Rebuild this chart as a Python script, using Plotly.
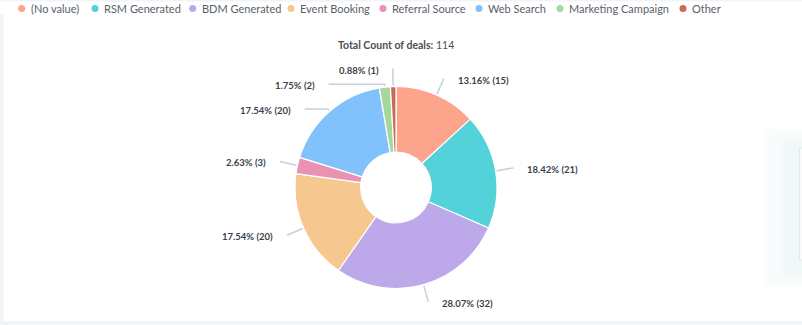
import math
import plotly.graph_objects as go

# ---------------- data ----------------
CATEGORIES = ["(No value)", "RSM Generated", "BDM Generated", "Event Booking",
              "Referral Source", "Web Search", "Marketing Campaign", "Other"]
COUNTS = [15, 21, 32, 20, 3, 20, 2, 1]
COLORS = ["#FCA58C", "#53D3D9", "#BDA9EA", "#F6C78F",
          "#EA92B2", "#81C1FC", "#A5D89B", "#C76B58"]
TITLE_LABEL = "Total Count of deals:"

# ---------------- layout constants ----------------
W, H = 802, 325
CX, CY, R = 396, 187.5, 101
FONT = "Lato"
LINE_COLOR = "#C5D0DC"
LABEL_COLOR = "#3A3F4A"
LEGEND_X = [21.7, 95, 192.7, 291, 383, 479, 560, 683]
LEGEND_Y = 8.5
BEND_R = {5: 104, 6: 104}      # label-line bend radius overrides
HLEN = {5: 23, 6: 56}          # horizontal label-line lengths

total = sum(COUNTS)

fig = go.Figure()

fig.add_trace(go.Pie(
    labels=CATEGORIES, values=COUNTS, sort=False, direction="clockwise",
    rotation=0, hole=0.35, textinfo="none", hoverinfo="label+value+percent",
    marker=dict(colors=COLORS, line=dict(color="#FFFFFF", width=1.2)),
    domain=dict(x=[(CX - R) / W, (CX + R) / W],
                y=[1 - (CY + R) / H, 1 - (CY - R) / H]),
    showlegend=False,
))

annotations = []
cum = 0
for i, c in enumerate(COUNTS):
    mid = (cum + c / 2) / total * 2 * math.pi
    cum += c
    sx, sy = math.sin(mid), -math.cos(mid)
    side = 1 if sx >= 0 else -1
    p0 = (CX + (R + 1) * sx, CY + (R + 1) * sy)
    rb = BEND_R.get(i, R + 18)
    p1 = (CX + rb * sx, CY + rb * sy)
    h = HLEN.get(i, 0)
    p2 = (p1[0] + side * h, p1[1])
    fig.add_trace(go.Scatter(
        x=[p0[0], p1[0], p2[0]], y=[p0[1], p1[1], p2[1]], mode="lines",
        line=dict(color=LINE_COLOR, width=1.5), hoverinfo="skip", showlegend=False,
    ))
    annotations.append(dict(
        x=p2[0] + side * 12, y=p2[1] + 1.5, xref="x", yref="y",
        text=f"<b>{c / total * 100:.2f}% ({c})</b>", showarrow=False,
        xanchor="left" if side > 0 else "right", yanchor="middle",
        font=dict(family=FONT, size=9.5, color=LABEL_COLOR),
    ))

# legend (custom, compact)
fig.add_trace(go.Scatter(
    x=LEGEND_X, y=[LEGEND_Y] * len(LEGEND_X), mode="markers",
    marker=dict(color=COLORS, size=7), hoverinfo="skip", showlegend=False,
))
for lx, name in zip(LEGEND_X, CATEGORIES):
    annotations.append(dict(
        x=lx + 7, y=LEGEND_Y, xref="x", yref="y", text=name, showarrow=False,
        xanchor="left", yanchor="middle",
        font=dict(family=FONT, size=11, color="#5A606B"),
    ))

annotations.append(dict(
    x=CX, y=45, xref="x", yref="y",
    text=f"<b>{TITLE_LABEL}</b> {total}", showarrow=False,
    xanchor="center", yanchor="middle",
    font=dict(family=FONT, size=10.5, color="#4A4F57"),
))

shapes = [
    dict(type="rect", xref="x", yref="y", x0=0, x1=3.5, y0=14, y1=H,
         fillcolor="#F1F5F9", line=dict(width=0), layer="below"),
    dict(type="rect", xref="x", yref="y", x0=0, x1=W, y0=321, y1=H,
         fillcolor="#F1F5F9", line=dict(width=0), layer="below"),
    dict(type="rect", xref="x", yref="y", x0=0, x1=W, y0=0, y1=1.5,
         fillcolor="#F1F5F9", line=dict(width=0), layer="below"),
]
# faint shadow of a card at the right edge
for k in range(8):
    shapes.append(dict(
        type="rect", xref="x", yref="y", x0=758 + k * 5, x1=W,
        y0=125 + k * 3, y1=290 - k * 3,
        fillcolor="rgba(120,130,140,0.012)", line=dict(width=0), layer="below"))
shapes.append(dict(type="rect", xref="x", yref="y", x0=799.5, x1=W + 2,
                   y0=148, y1=260, fillcolor="#FAFAFA",
                   line=dict(color="#E6E8EB", width=1), layer="below"))

fig.update_layout(
    width=W, height=H, margin=dict(l=0, r=0, t=0, b=0),
    paper_bgcolor="#FFFFFF", plot_bgcolor="rgba(0,0,0,0)",
    xaxis=dict(range=[0, W], visible=False, fixedrange=True, domain=[0, 1]),
    yaxis=dict(range=[H, 0], visible=False, fixedrange=True, domain=[0, 1]),
    annotations=annotations, shapes=shapes, showlegend=False,
    font=dict(family=FONT),
)

fig.write_html("out.html")
